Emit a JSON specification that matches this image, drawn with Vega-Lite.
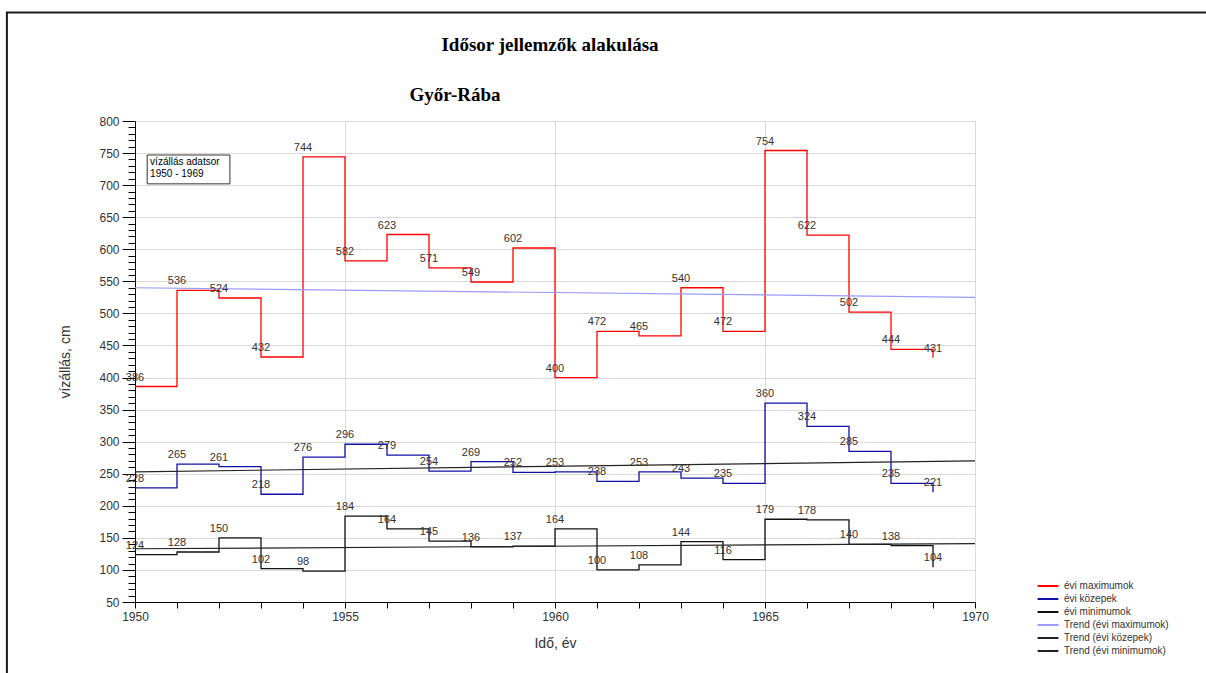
{
  "$schema": "https://vega.github.io/schema/vega-lite/v6.json",
  "width": 840,
  "height": 481,
  "autosize": "none",
  "padding": {"left": 135, "top": 121, "right": 231, "bottom": 71},
  "background": "white",
  "title": {
    "text": "Idősor jellemzők alakulása",
    "anchor": "middle",
    "font": "Liberation Serif",
    "fontSize": 19,
    "fontWeight": "bold",
    "color": "black",
    "offset": -44,
    "dx": -5
  },
  "config": {
    "view": {"stroke": "#d9d9d9", "strokeWidth": 1},
    "axis": {
      "labelFont": "Liberation Sans",
      "labelFontSize": 12,
      "labelColor": "#333333",
      "titleFont": "Liberation Sans",
      "titleFontSize": 14,
      "titleFontWeight": "normal",
      "titleColor": "#333333",
      "domainColor": "black",
      "tickColor": "black",
      "gridColor": "#d9d9d9"
    },
    "legend": {
      "labelFont": "Liberation Sans",
      "labelFontSize": 10,
      "labelColor": "#333333"
    }
  },
  "datasets": {
    "main": [
      {"year": 1950, "value": 386, "series": "évi maximumok"},
      {"year": 1951, "value": 536, "series": "évi maximumok"},
      {"year": 1952, "value": 524, "series": "évi maximumok"},
      {"year": 1953, "value": 432, "series": "évi maximumok"},
      {"year": 1954, "value": 744, "series": "évi maximumok"},
      {"year": 1955, "value": 582, "series": "évi maximumok"},
      {"year": 1956, "value": 623, "series": "évi maximumok"},
      {"year": 1957, "value": 571, "series": "évi maximumok"},
      {"year": 1958, "value": 549, "series": "évi maximumok"},
      {"year": 1959, "value": 602, "series": "évi maximumok"},
      {"year": 1960, "value": 400, "series": "évi maximumok"},
      {"year": 1961, "value": 472, "series": "évi maximumok"},
      {"year": 1962, "value": 465, "series": "évi maximumok"},
      {"year": 1963, "value": 540, "series": "évi maximumok"},
      {"year": 1964, "value": 472, "series": "évi maximumok"},
      {"year": 1965, "value": 754, "series": "évi maximumok"},
      {"year": 1966, "value": 622, "series": "évi maximumok"},
      {"year": 1967, "value": 502, "series": "évi maximumok"},
      {"year": 1968, "value": 444, "series": "évi maximumok"},
      {"year": 1969, "value": 431, "series": "évi maximumok"},
      {"year": 1950, "value": 228, "series": "évi közepek"},
      {"year": 1951, "value": 265, "series": "évi közepek"},
      {"year": 1952, "value": 261, "series": "évi közepek"},
      {"year": 1953, "value": 218, "series": "évi közepek"},
      {"year": 1954, "value": 276, "series": "évi közepek"},
      {"year": 1955, "value": 296, "series": "évi közepek"},
      {"year": 1956, "value": 279, "series": "évi közepek"},
      {"year": 1957, "value": 254, "series": "évi közepek"},
      {"year": 1958, "value": 269, "series": "évi közepek"},
      {"year": 1959, "value": 252, "series": "évi közepek"},
      {"year": 1960, "value": 253, "series": "évi közepek"},
      {"year": 1961, "value": 238, "series": "évi közepek"},
      {"year": 1962, "value": 253, "series": "évi közepek"},
      {"year": 1963, "value": 243, "series": "évi közepek"},
      {"year": 1964, "value": 235, "series": "évi közepek"},
      {"year": 1965, "value": 360, "series": "évi közepek"},
      {"year": 1966, "value": 324, "series": "évi közepek"},
      {"year": 1967, "value": 285, "series": "évi közepek"},
      {"year": 1968, "value": 235, "series": "évi közepek"},
      {"year": 1969, "value": 221, "series": "évi közepek"},
      {"year": 1950, "value": 124, "series": "évi minimumok"},
      {"year": 1951, "value": 128, "series": "évi minimumok"},
      {"year": 1952, "value": 150, "series": "évi minimumok"},
      {"year": 1953, "value": 102, "series": "évi minimumok"},
      {"year": 1954, "value": 98, "series": "évi minimumok"},
      {"year": 1955, "value": 184, "series": "évi minimumok"},
      {"year": 1956, "value": 164, "series": "évi minimumok"},
      {"year": 1957, "value": 145, "series": "évi minimumok"},
      {"year": 1958, "value": 136, "series": "évi minimumok"},
      {"year": 1959, "value": 137, "series": "évi minimumok"},
      {"year": 1960, "value": 164, "series": "évi minimumok"},
      {"year": 1961, "value": 100, "series": "évi minimumok"},
      {"year": 1962, "value": 108, "series": "évi minimumok"},
      {"year": 1963, "value": 144, "series": "évi minimumok"},
      {"year": 1964, "value": 116, "series": "évi minimumok"},
      {"year": 1965, "value": 179, "series": "évi minimumok"},
      {"year": 1966, "value": 178, "series": "évi minimumok"},
      {"year": 1967, "value": 140, "series": "évi minimumok"},
      {"year": 1968, "value": 138, "series": "évi minimumok"},
      {"year": 1969, "value": 104, "series": "évi minimumok"}
    ],
    "trend": [
      {"year": 1950, "value": 540, "series": "Trend (évi maximumok)"},
      {"year": 1970, "value": 525, "series": "Trend (évi maximumok)"},
      {"year": 1950, "value": 253, "series": "Trend (évi közepek)"},
      {"year": 1970, "value": 270, "series": "Trend (évi közepek)"},
      {"year": 1950, "value": 133, "series": "Trend (évi minimumok)"},
      {"year": 1970, "value": 141, "series": "Trend (évi minimumok)"}
    ],
    "note": [
      {"label": "Győr-Rába", "lines": "vízállás adatsor|1950 - 1969"}
    ]
  },
  "layer": [
    {
      "data": {"name": "note"},
      "mark": {"type": "rect", "fill": null, "fillOpacity": 0, "stroke": "#1a1a1a", "strokeWidth": 2, "clip": false},
      "encoding": {
        "x": {"datum": 1946.95},
        "x2": {"datum": 1975.8},
        "y": {"datum": 969.2},
        "y2": {"datum": -90}
      }
    },
    {
      "data": {"name": "main"},
      "mark": {"type": "line", "interpolate": "step-after", "strokeWidth": 1.3},
      "encoding": {
        "x": {
          "field": "year",
          "type": "quantitative",
          "scale": {"domain": [1950, 1970], "nice": false, "zero": false},
          "axis": {
            "title": "Idő, év",
            "values": [1950, 1951, 1952, 1953, 1954, 1955, 1956, 1957, 1958, 1959, 1960, 1961, 1962, 1963, 1964, 1965, 1966, 1967, 1968, 1969, 1970],
            "tickCount": 100,
            "labelExpr": "datum.value % 5 == 0 ? datum.value : ''",
            "labelOverlap": false,
            "grid": true,
            "gridOpacity": {"condition": {"test": "datum.value % 5 == 0", "value": 1}, "value": 0},
            "tickSize": 6,
            "labelPadding": 3,
            "titlePadding": 14,
            "labelFlush": false
          }
        },
        "y": {
          "field": "value",
          "type": "quantitative",
          "scale": {"domain": [50, 800], "nice": false, "zero": false},
          "axis": {
            "title": "vízállás, cm",
            "values": [50,60,70,80,90,100,110,120,130,140,150,160,170,180,190,200,210,220,230,240,250,260,270,280,290,300,310,320,330,340,350,360,370,380,390,400,410,420,430,440,450,460,470,480,490,500,510,520,530,540,550,560,570,580,590,600,610,620,630,640,650,660,670,680,690,700,710,720,730,740,750,760,770,780,790,800],
            "tickCount": 200,
            "labelExpr": "datum.value % 50 == 0 ? datum.value : ''",
            "labelOverlap": false,
            "grid": true,
            "gridOpacity": {"condition": {"test": "datum.value % 50 == 0", "value": 1}, "value": 0},
            "tickSize": {"condition": {"test": "datum.value % 50 == 0", "value": 13}, "value": 7},
            "labelPadding": 3,
            "titlePadding": 26,
            "labelFlush": false
          }
        },
        "color": {
          "field": "series",
          "type": "nominal",
          "scale": {
            "domain": ["évi maximumok", "évi közepek", "évi minimumok", "Trend (évi maximumok)", "Trend (évi közepek)", "Trend (évi minimumok)"],
            "range": ["#ff0000", "#1010a8", "#111111", "#9a9aff", "#222222", "#222222"]
          },
          "legend": {
            "title": null,
            "orient": "none",
            "legendX": 908,
            "legendY": 460,
            "symbolType": "M-2.6,0H2.6",
            "symbolSize": 64,
            "symbolStrokeWidth": 2,
            "rowPadding": 3,
            "labelOffset": 11
          }
        }
      }
    },
    {
      "data": {"name": "trend"},
      "mark": {"type": "line", "strokeWidth": 1.2},
      "encoding": {
        "x": {"field": "year", "type": "quantitative"},
        "y": {"field": "value", "type": "quantitative"},
        "color": {"field": "series", "type": "nominal"}
      }
    },
    {
      "data": {"name": "main"},
      "mark": {"type": "text", "font": "Liberation Sans", "fontSize": 11, "fill": "#333333", "baseline": "bottom", "dy": -4},
      "encoding": {
        "x": {"field": "year", "type": "quantitative"},
        "y": {"field": "value", "type": "quantitative"},
        "text": {"field": "value", "type": "quantitative"}
      }
    },
    {
      "data": {"name": "note"},
      "mark": {"type": "rect", "fill": "white", "stroke": "#333333", "strokeWidth": 1},
      "encoding": {
        "x": {"datum": 1950.29},
        "x2": {"datum": 1952.26},
        "y": {"datum": 747},
        "y2": {"datum": 702}
      }
    },
    {
      "data": {"name": "note"},
      "transform": [{"calculate": "split(datum.lines, '|')", "as": "textLines"}],
      "mark": {"type": "text", "font": "Liberation Sans", "fontSize": 10, "fill": "black", "align": "left", "baseline": "top", "lineHeight": 12},
      "encoding": {
        "x": {"datum": 1950.36},
        "y": {"datum": 744},
        "text": {"field": "textLines"}
      }
    },
    {
      "data": {"name": "note"},
      "mark": {"type": "text", "font": "Liberation Serif", "fontSize": 19, "fontWeight": "bold", "fill": "black", "align": "center", "baseline": "middle", "clip": false},
      "encoding": {
        "x": {"datum": 1957.62},
        "y": {"datum": 840},
        "text": {"field": "label"}
      }
    }
  ]
}
